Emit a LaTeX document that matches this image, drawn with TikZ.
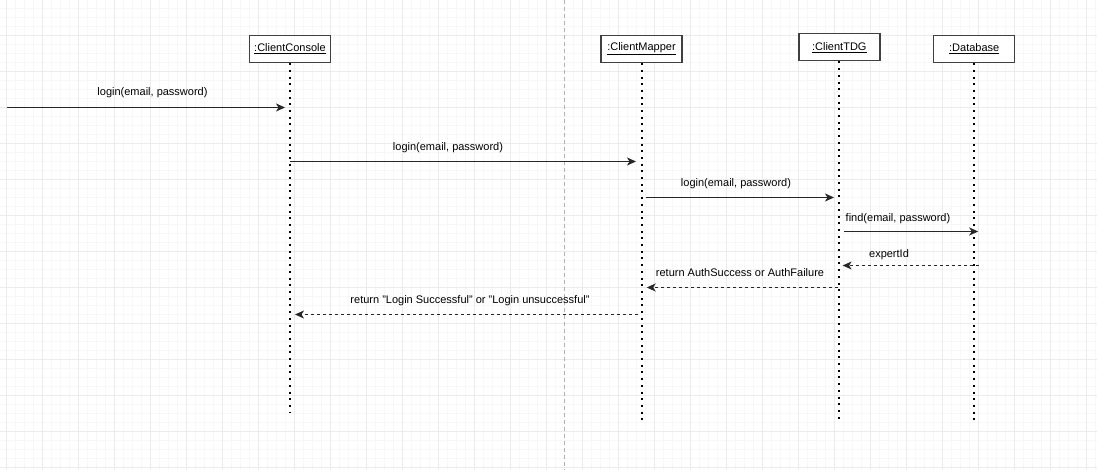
\documentclass[tikz,border=0pt]{standalone}
\usepackage{fontspec}
\setmainfont{Liberation Sans}
\usetikzlibrary{arrows.meta}

\begin{document}
\begin{tikzpicture}[x=1pt, y=-1pt, >={Stealth[length=9pt,width=8pt,inset=2.5pt]},
    obj/.style={rectangle, draw=black!75, line width=1.4pt, fill=white,
    minimum width=81pt, minimum height=27pt, inner sep=0pt, font=\fontsize{11}{13}\selectfont},
    life/.style={line width=2pt, dash pattern=on 2pt off 4.7pt},
    call/.style={draw=black!85, line width=1.1pt, ->},
    reply/.style={call, dash pattern=on 3pt off 3pt},
    msg/.style={font=\fontsize{11}{13}\selectfont, inner sep=0pt}]
    \useasboundingbox (0,0) rectangle (1097,470);
    % grid
    \foreach \x in {6.3,15.3,...,1097} \draw[black!3, line width=0.6pt] (\x,0) -- (\x,470);
    \foreach \y in {8.3,17.3,...,470} \draw[black!3, line width=0.6pt] (0,\y) -- (1097,\y);
    \foreach \x in {6.3,42.3,...,1097} \draw[black!8, line width=0.8pt] (\x,0) -- (\x,470);
    \foreach \y in {35.3,71.3,...,470} \draw[black!8, line width=0.8pt] (0,\y) -- (1097,\y);
    \draw[black!30, line width=0.8pt, dash pattern=on 4pt off 3pt] (564.3,0) -- (564.3,470);
    % objects
    \node[obj] (cc) at (290,49) {\underline{:ClientConsole}};
    \node[obj] (cm) at (641.5,49) {\underline{:ClientMapper}};
    \node[obj] (tdg) at (839.3,47.3) {\underline{:ClientTDG}};
    \node[obj] (db) at (974.2,49) {\underline{:Database}};
    \coordinate (ccEnd) at (290,413);
    \coordinate (cmEnd) at (641.5,421);
    \coordinate (tdgEnd) at (839.3,421);
    \coordinate (dbEnd) at (974.2,421);
    \draw[life] (cc.south) -- (ccEnd);
    \draw[life] (cm.south) -- (cmEnd);
    \draw[life] (tdg.south) -- (tdgEnd);
    \draw[life] (db.south) -- (dbEnd);
    % message rows
    \coordinate (user) at (7,107.5);
    \coordinate (r2) at (0,161.5);
    \coordinate (r3) at (0,197.5);
    \coordinate (r4) at (0,231.5);
    \coordinate (r5) at (0,265.5);
    \coordinate (r6) at (0,287.5);
    \coordinate (r7) at (0,314.5);
    \draw[call, shorten >=5pt] (user) -- (cc.south |- user);
    \draw[call, shorten >=5.5pt] (cc.south |- r2) -- (cm.south |- r2);
    \draw[call, shorten <=4.5pt, shorten >=5.3pt] (cm.south |- r3) -- (tdg.south |- r3);
    \draw[call, shorten <=4.7pt, shorten >=-4pt] (tdg.south |- r4) -- (db.south |- r4);
    \draw[reply, shorten <=-5pt, shorten >=3.3pt] (db.south |- r5) -- (tdg.south |- r5);
    \draw[reply, shorten <=1.3pt, shorten >=5.2pt] (tdg.south |- r6) -- (cm.south |- r6);
    \draw[reply, shorten <=4pt, shorten >=5pt] (cm.south |- r7) -- (cc.south |- r7);
    % labels
    \node[msg] (l1) at (152.5,92.3) {login(email, password)};
    \node[msg] (l2) at (448,147.7) {login(email, password)};
    \node[msg] (l3) at (736,183.3) {login(email, password)};
    \node[msg] (l4) at (898,218.3) {find(email, password)};
    \node[msg] (l5) at (889,254.3) {expertId};
    \node[msg] (l6) at (740,272.3) {return AuthSuccess or AuthFailure};
    \node[msg] (l7) at (470,300.7) {return "Login Successful" or "Login unsuccessful"};
\end{tikzpicture}
\end{document}
